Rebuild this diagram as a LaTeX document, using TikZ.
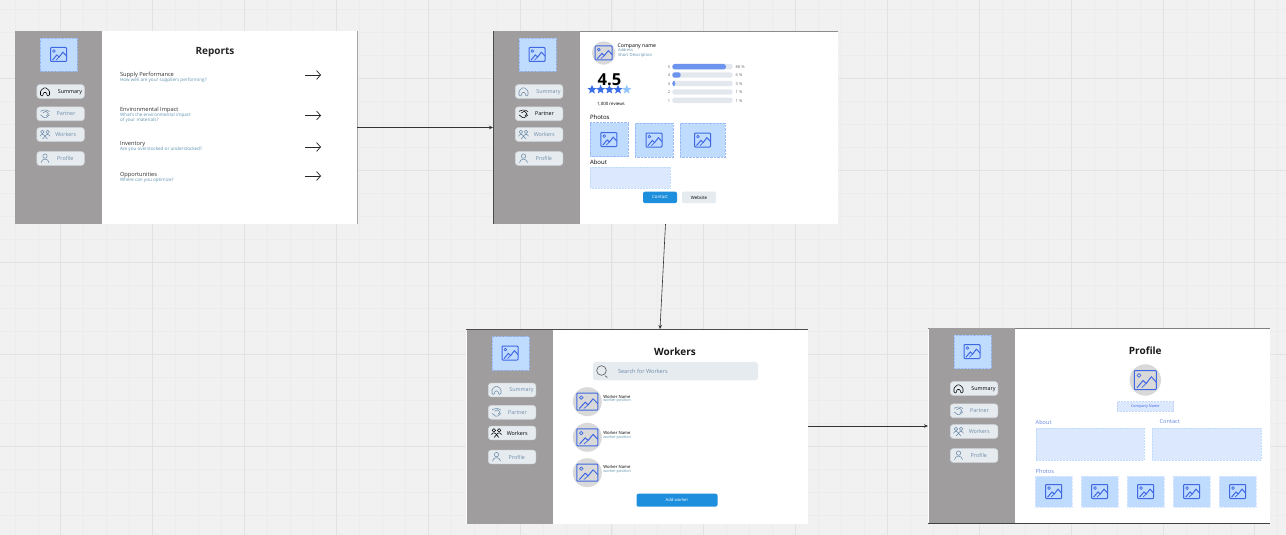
\documentclass[tikz,border=0pt]{standalone}
\usepackage{fontspec}
\setmainfont{Open Sans}
\usetikzlibrary{arrows.meta,shapes.geometric,calc}
\definecolor{bgc}{HTML}{F1F1F1}
\definecolor{gridmin}{HTML}{ECECEC}
\definecolor{gridmaj}{HTML}{E2E2E2}
\definecolor{sidec}{HTML}{A09D9E}
\definecolor{btnc}{HTML}{E6EBF0}
\definecolor{btnl}{HTML}{D3D8DC}
\definecolor{muted}{HTML}{6E8CA8}
\definecolor{iconb}{HTML}{3F68E2}
\definecolor{boxb}{HTML}{BFDBFE}
\definecolor{boxl}{HTML}{DBE8FE}
\definecolor{dashb}{HTML}{9ABBF6}
\definecolor{subt}{HTML}{5E93B0}
\definecolor{ctab}{HTML}{1E8FDC}
\definecolor{barb}{HTML}{E2E8ED}
\definecolor{barf}{HTML}{6C93EE}
\definecolor{starb}{HTML}{3B6FE8}
\definecolor{starl}{HTML}{93C5FD}
\definecolor{avat}{HTML}{D9D9D9}
\tikzset{
  x=1pt,y=-1pt,
  txt/.style={inner sep=0pt,outer sep=0pt,yshift=-.2pt,font=\fontsize{#1}{#1}\selectfont},
  ltxt/.style={txt=#1,anchor=west},
  btxt/.style={inner sep=0pt,outer sep=0pt,yshift=-.2pt,font=\fontsize{#1}{#1}\selectfont\bfseries},
  frame/.style={draw=none,fill=white,inner sep=0pt,outer sep=0pt,minimum width=#1,minimum height=194},
  side/.style={draw=none,fill=sidec,inner sep=0pt,outer sep=0pt,anchor=north west,minimum width=86.5,minimum height=193.5},
  btn/.style={draw=btnl,line width=.6pt,fill=btnc,rounded corners=3pt,inner sep=0pt,minimum width=47.5,minimum height=13.8},
  photo/.style={draw=dashb,densely dotted,line width=.4pt,fill=boxb,inner sep=0pt,anchor=north west},
  pale/.style={draw=boxb,densely dotted,line width=.5pt,fill=boxl,inner sep=0pt,anchor=north west},
  conn/.style={draw=black!80,line width=.6pt,-{Stealth[length=4pt,width=3.5pt]}},
  rowarrow/.style={draw=black!85,line width=.7pt,-{Straight Barb[length=4pt,width=9pt]}},
  avatar/.style={circle,fill=avat,inner sep=0pt,minimum size=#1},
  star5/.style={star,star points=5,star point ratio=2.3,fill=#1,inner sep=0pt,minimum size=9.6},
}
% image placeholder icon: centre x, centre y, width, height
\newcommand{\imgicon}[4]{%
  \begin{scope}[shift={(#1,#2)},xscale=#3/16,yscale=#4/14,draw=iconb,line width=1pt,line join=round]
    \draw[rounded corners=.8pt] (-8,-7) rectangle (8,7);
    \draw[line width=.7pt] (-4.6,-3.4) circle (1.4);
    \draw (-6,5.6)--(-1.6,.4)--(.6,2.6)--(4.4,-2.4)--(8,1.6);
    \draw[line width=.7pt] (-2.6,5.6)--(.6,2.6);
  \end{scope}}
\newcommand{\sidebar}[5]{% name, x, y, active index, height of strip
  \node[side,minimum height=#5] (#1-side) at (#2,#3) {};
  \begin{scope}[shift={(#2,#3)}]
    \node[photo,minimum width=37,minimum height=33.5] (#1-logo) at (25,6.8) {};
    \imgicon{43.5}{23.5}{16}{14}
    \foreach \yy/\lab/\lx/\idx in {60.5/Summary/55/1,82.8/Partner/51/2,103.5/Workers/50.7/3,127.5/Profile/50.3/4}{
      \ifnum\idx=#4\relax\def\tc{black}\else\def\tc{muted}\fi
      \node[btn] (#1-btn\idx) at (45.6,\yy) {};
      \node[txt=5.4,text=\tc] (#1-lab\idx) at (\lx,\yy) {\lab};
      \begin{scope}[shift={(30,\yy)},draw=\tc,line width=.55pt,line join=round]
        \ifnum\idx=1
          \draw[rounded corners=1pt] (-4.5,4.3)--(-4.5,-.8)--(0,-4.3)--(4.5,-.8)--(4.5,4.3)--(1.8,4.3)--(1.8,1)--(-1.8,1)--(-1.8,4.3)--cycle;
        \fi
        \ifnum\idx=2
          \draw (-4.5,-2.5)--(-1.5,-3.6)--(2,-3.6)--(4.5,-2.2);
          \draw (-4.5,1)--(-1,3.8)--(1,3.8)--(4.5,1);
          \draw (-2,-1)--(1,-2.6)--(3.5,0)--(1.5,2);
        \fi
        \ifnum\idx=3
          \draw (-2.6,-2.6) circle (1.8);
          \draw (2.6,-2.6) circle (1.8);
          \draw (-5,1.8) .. controls (-4,-.8) and (-1.2,-.8) .. (0,1.8) .. controls (1.2,-.8) and (4,-.8) .. (5,1.8);
          \draw (-2.4,4.4)--(0,1.8)--(2.4,4.4);
        \fi
        \ifnum\idx=4
          \draw (0,-2.4) circle (2.2);
          \draw (-4,4.2) .. controls (-3.4,-.6) and (3.4,-.6) .. (4,4.2);
        \fi
      \end{scope}
    }
  \end{scope}}
\begin{document}
\begin{tikzpicture}
\useasboundingbox (0,0) rectangle (1286,535);
\fill[bgc] (0,0) rectangle (1286,535);
% canvas grid
\foreach \k in {0,...,56}{\draw[gridmin,line width=.5pt] ({14.8+22.96*\k},0)--({14.8+22.96*\k},535);}
\foreach \k in {0,...,23}{\draw[gridmin,line width=.5pt] (0,{9.4+23*\k})--(1286,{9.4+23*\k});}
\foreach \k in {0,...,13}{\draw[gridmaj,line width=.7pt] ({60.7+91.85*\k},0)--({60.7+91.85*\k},535);}
\foreach \k in {0,...,5}{\draw[gridmaj,line width=.7pt] (0,{78.4+92*\k})--(1286,{78.4+92*\k});}

% frames
\node[frame=342,anchor=north west,minimum height=193] (f1) at (15,31) {};
\node[frame=345,anchor=north west,minimum height=193] (f2) at (493,31) {};
\node[frame=342,anchor=north west,minimum height=195] (f3) at (466,329) {};
\node[frame=342,anchor=north west,minimum height=195] (f4) at (928,328) {};
\draw[black!35,line width=.6pt] (f1.north east)--(f1.south east);
\draw[black!45,line width=.7pt] (f2.north west)--(f2.north east);
\draw[black!70,line width=.8pt] (f3.north west)--(f3.north east);
\draw[black!50,line width=.7pt] (f4.north west)--(f4.north east);
\draw[black!75,line width=.8pt] (f4.south west)--(f4.south east);

\sidebar{s1}{15}{31}{1}{193}
\sidebar{s2}{493.5}{31}{2}{193}
\sidebar{s3}{466.5}{329.5}{3}{194.5}
\sidebar{s4}{928.5}{328}{1}{195}
\draw[black!70,line width=.7pt] (f2.north west)--(f2.south west);

% connectors
\coordinate (f3top) at (660,329);
\coordinate (f3out) at (808,426);
\coordinate (f4in) at (928,426);
\draw[conn] (f1.east)--(f2.west);
\draw[conn] (f2.south)--(f3top);
\draw[conn] (f3out)--(f4in);

% --- Reports
\node[btxt=10,text=black!85] (r-title) at (215,52) {Reports};
\foreach \n/\ty/\sy/\ay/\tt/\ss in {
 a/74.5/80/75/Supply Performance/How well are your suppliers performing?,
 c/144/149.5/147/Inventory/Are you overstocked or understocked?,
 d/175/180.5/176/Opportunities/Where can you optimize?}{
  \node[ltxt=5.7,text=black!80] (r-\n-t) at (120,\ty) {\tt};
  \node[ltxt=4.6,text=subt] (r-\n-s) at (120,\sy) {\ss};
  \coordinate (r-\n-a0) at (305,\ay);
  \coordinate (r-\n-a1) at (321,\ay);
  \draw[rowarrow] (r-\n-a0)--(r-\n-a1);
}
\node[ltxt=5.7,text=black!80] (r-b-t) at (120,109.5) {Environmental Impact};
\node[ltxt=4.6,text=subt] (r-b-s1) at (120,115) {What's the environmental impact};
\node[ltxt=4.6,text=subt] (r-b-s2) at (120,120) {of your materials?};
\coordinate (r-b-a0) at (305,115.5);
\coordinate (r-b-a1) at (321,115.5);
\draw[rowarrow] (r-b-a0)--(r-b-a1);

% --- Partner
\node[avatar=23.4] (p-av) at (603.7,53) {};
\imgicon{603.7}{53}{17}{14}
\node[ltxt=5.2,text=black] (p-name) at (617.7,45.6) {Company name};
\node[ltxt=4,text=subt] (p-addr) at (618,49.8) {Address};
\node[ltxt=4.2,text=subt] (p-desc) at (618,55.4) {Short Description};
\node[btxt=16.5] (p-rate) at (609.5,79.5) {4.5};
\foreach \i/\xx/\cc in {1/592/starb,2/600.6/starb,3/609.4/starb,4/618/starb,5/626.7/starl}{
  \node[star5=\cc] (p-star\i) at (\xx,89.6) {};
}
\node[txt=4.4] (p-rev) at (611,103.8) {1,000 reviews};
\foreach \i/\yy/\nn/\ee/\pp in {5/66.7/5/726/88 \%,4/75/4/680.7/6 \%,3/83.5/3/675.3/3 \%,2/92/2/672.3/1 \%,1/100.4/1/672.3/1 \%}{
  \node[txt=4,text=black!60] (p-num\i) at (669,\yy) {\nn};
  \fill[barb,rounded corners=2.5pt] (672.3,\yy-2.7) rectangle (732.7,\yy+2.7);
  \ifnum\i>2
    \fill[barf,rounded corners=2.5pt] (672.3,\yy-2.7) rectangle (\ee,\yy+2.7);
  \fi
  \node[ltxt=4,text=black!60] (p-pct\i) at (735.7,\yy) {\pp};
}
\node[ltxt=6,text=black] (p-photos) at (590,117) {Photos};
\node[photo,minimum width=37.7,minimum height=34] (p-ph1) at (590,122.3) {};
\node[photo,minimum width=38,minimum height=34] (p-ph2) at (635,123) {};
\node[photo,minimum width=45,minimum height=34] (p-ph3) at (680,123) {};
\imgicon{608.8}{139.5}{16}{14}
\imgicon{654}{140}{16}{14}
\imgicon{702.5}{140}{16}{14}
\node[ltxt=6,text=black] (p-about) at (590,162) {About};
\node[pale,minimum width=79.7,minimum height=21] (p-abox) at (590,167) {};
\node[fill=ctab,rounded corners=2pt,inner sep=0pt,minimum width=34,minimum height=11.5,text=white,font=\fontsize{4.4}{4.4}\selectfont] (p-contact) at (660,197.4) {Contact};
\node[fill=btnc,rounded corners=2pt,inner sep=0pt,minimum width=34,minimum height=11.5,font=\fontsize{4.4}{4.4}\selectfont] (p-web) at (699,197.4) {Website};

% --- Workers
\node[btxt=10,text=black!90] (w-title) at (675,351.7) {Workers};
\node[fill=btnc,rounded corners=3pt,inner sep=0pt,minimum width=165,minimum height=18.5] (w-search) at (675.5,371.2) {};
\draw[black!60,line width=.7pt] (601.5,370.5) circle (4.8);
\draw[black!60,line width=.7pt] (w-search.west)+(12.2,4.5) -- +(14.5,6.3);
\node[ltxt=5.6,text=muted] (w-stxt) at (618,371.2) {Search for Workers};
\foreach \i/\yy/\ny/\py in {1/401.7/396.3/400.4,2/437.3/432.7/437.3,3/472.7/466.8/471.7}{
  \node[avatar=29] (w-av\i) at (587.3,\yy) {};
  \imgicon{587.3}{\yy}{21}{17}
  \node[ltxt=4.2,text=black] (w-n\i) at (603.3,\ny) {Worker Name};
  \node[ltxt=3.8,text=subt] (w-p\i) at (603.3,\py) {worker position};
}
\node[fill=ctab,rounded corners=2pt,inner sep=0pt,minimum width=81,minimum height=13,text=white,font=\fontsize{4.2}{4.2}\selectfont] (w-add) at (677,500.2) {Add worker};

% --- Profile
\node[btxt=10,text=black!90] (q-title) at (1145.3,350.7) {Profile};
\node[avatar=31.4] (q-av) at (1145.3,380) {};
\imgicon{1145.3}{380}{22}{19}
\node[pale,draw=dashb!60,minimum width=56.7,minimum height=9.6,anchor=center,text=iconb,font=\fontsize{3.8}{3.8}\selectfont] (q-name) at (1145.3,406.5) {Company Name};
\node[ltxt=5.6,text=iconb!80] (q-about) at (1035.7,421.7) {About};
\node[ltxt=5.6,text=iconb!80] (q-contact) at (1159.7,421.7) {Contact};
\node[pale,minimum width=108,minimum height=32] (q-abox) at (1035.5,427.5) {};
\node[pale,minimum width=108.7,minimum height=32] (q-cbox) at (1152,427.5) {};
\node[ltxt=5.6,text=iconb!80] (q-photos) at (1035.7,471) {Photos};
\foreach \i/\xx in {1/1035.2,2/1081.2,3/1127.2,4/1173.2,5/1219.2}{
  \node[photo,draw=boxl,minimum width=36.8,minimum height=31] (q-ph\i) at (\xx,476) {};
  \imgicon{\xx+18.4}{491.5}{16}{14}
}
\end{tikzpicture}
\end{document}
